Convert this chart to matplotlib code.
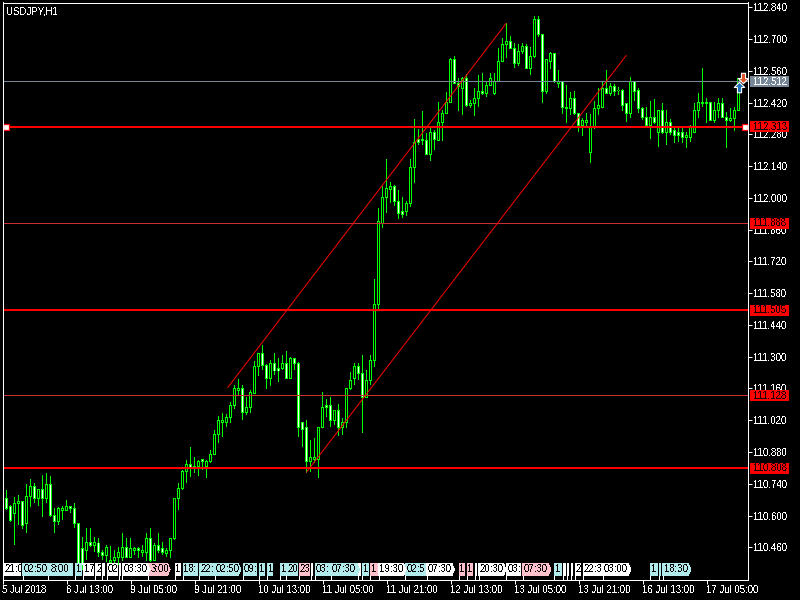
import matplotlib
matplotlib.use("Agg")
import matplotlib.pyplot as plt
from matplotlib.patches import Polygon, Rectangle
from matplotlib.transforms import blended_transform_factory
from matplotlib.path import Path
import numpy as np

plt.rcParams['font.family'] = ['Liberation Sans', 'DejaVu Sans']
plt.rcParams['text.antialiased'] = False

highs = [
110.673,110.713,110.647,110.682,110.690,110.660,110.739,110.761,110.743,110.713,
110.779,110.787,110.774,110.633,110.638,110.642,110.668,110.642,110.655,110.563,
110.505,110.545,110.545,110.505,110.501,110.448,110.470,110.466,110.448,110.461,
110.523,110.501,110.501,110.461,110.461,110.470,110.523,110.545,110.479,110.523,
110.483,110.457,110.501,110.677,110.743,110.801,110.845,110.902,110.858,110.845,
110.845,110.845,110.889,110.977,111.039,111.052,111.047,111.100,111.175,111.202,
111.175,111.122,111.153,111.281,111.316,111.352,111.268,111.285,111.316,111.294,
111.307,111.325,111.299,111.294,111.277,111.012,111.021,110.933,110.942,110.990,
111.144,111.114,111.122,111.065,111.092,111.030,111.162,111.233,111.272,111.272,
111.307,111.241,111.307,111.643,111.955,112.052,112.171,112.070,112.057,112.035,
112.004,111.986,112.171,112.348,112.303,112.383,112.286,112.308,112.299,112.422,
112.387,112.467,112.616,112.625,112.528,112.533,112.546,112.431,112.484,112.541,
112.550,112.511,112.550,112.550,112.660,112.705,112.771,112.713,112.682,112.678,
112.682,112.678,112.665,112.801,112.801,112.722,112.608,112.643,112.638,112.564,
112.515,112.497,112.467,112.471,112.370,112.352,112.374,112.370,112.427,112.484,
112.515,112.564,112.506,112.502,112.489,112.480,112.414,112.533,112.511,112.484,
112.400,112.400,112.427,112.436,112.387,112.418,112.387,112.348,112.308,112.312,
112.312,112.290,112.321,112.418,112.462,112.572,112.440,112.422,112.422,112.440,
112.440,112.378,112.396,112.400,112.524]
lows = [
110.655,110.624,110.572,110.470,110.558,110.541,110.523,110.638,110.655,110.642,
110.594,110.655,110.594,110.523,110.558,110.580,110.620,110.611,110.545,110.369,
110.360,110.404,110.461,110.439,110.417,110.404,110.395,110.382,110.386,110.382,
110.400,110.417,110.413,110.426,110.413,110.417,110.400,110.395,110.400,110.435,
110.426,110.417,110.413,110.492,110.624,110.713,110.743,110.770,110.787,110.774,
110.801,110.765,110.832,110.867,110.920,110.946,110.990,111.008,111.070,111.131,
111.021,111.043,111.052,111.140,111.215,111.241,111.158,111.171,111.219,111.189,
111.241,111.202,111.202,111.241,110.946,110.902,110.787,110.792,110.832,110.765,
110.986,111.034,110.990,110.999,110.951,110.955,110.986,111.153,111.175,111.197,
110.964,111.118,111.175,111.255,111.510,111.867,111.933,111.977,111.964,111.907,
111.911,111.920,111.960,112.065,112.233,112.233,112.189,112.162,112.211,112.251,
112.251,112.370,112.422,112.506,112.383,112.365,112.400,112.396,112.361,112.400,
112.453,112.444,112.493,112.453,112.511,112.599,112.616,112.660,112.572,112.581,
112.634,112.568,112.541,112.616,112.709,112.418,112.458,112.568,112.506,112.484,
112.370,112.330,112.365,112.365,112.290,112.273,112.312,112.154,112.303,112.365,
112.400,112.462,112.449,112.449,112.453,112.383,112.334,112.352,112.427,112.374,
112.343,112.317,112.259,112.326,112.224,112.281,112.233,112.277,112.242,112.246,
112.242,112.220,112.246,112.290,112.352,112.400,112.330,112.339,112.330,112.352,
112.352,112.220,112.334,112.295,112.383]
opens = [
110.655,110.673,110.638,110.607,110.655,110.660,110.563,110.682,110.726,110.677,
110.713,110.673,110.739,110.602,110.572,110.624,110.624,110.638,110.629,110.563,
110.453,110.448,110.483,110.466,110.479,110.439,110.422,110.395,110.404,110.413,
110.413,110.461,110.417,110.448,110.453,110.439,110.439,110.497,110.400,110.470,
110.453,110.431,110.448,110.497,110.673,110.717,110.792,110.823,110.810,110.814,
110.845,110.814,110.836,110.871,110.955,111.012,111.012,111.030,111.083,111.153,
111.158,111.052,111.074,111.140,111.255,111.316,111.263,111.206,111.272,111.246,
111.246,111.272,111.206,111.294,111.272,111.008,110.986,110.836,110.845,110.845,
110.990,111.087,111.087,111.017,111.065,110.986,111.008,111.158,111.202,111.255,
111.224,111.122,111.197,111.285,111.528,111.889,112.000,112.039,112.052,111.986,
111.942,111.942,111.977,112.132,112.259,112.251,112.251,112.193,112.290,112.251,
112.334,112.374,112.422,112.608,112.502,112.484,112.524,112.405,112.414,112.440,
112.467,112.462,112.497,112.458,112.515,112.603,112.678,112.687,112.660,112.594,
112.647,112.669,112.572,112.621,112.788,112.722,112.467,112.603,112.638,112.506,
112.511,112.392,112.392,112.440,112.370,112.321,112.334,112.202,112.308,112.396,
112.400,112.480,112.458,112.489,112.471,112.475,112.414,112.370,112.511,112.471,
112.396,112.356,112.321,112.352,112.286,112.383,112.286,112.334,112.295,112.286,
112.286,112.264,112.264,112.290,112.383,112.418,112.418,112.422,112.339,112.383,
112.414,112.356,112.339,112.348,112.383]
closes = [
110.673,110.633,110.580,110.655,110.660,110.558,110.686,110.726,110.677,110.713,
110.673,110.739,110.598,110.572,110.633,110.633,110.638,110.629,110.563,110.382,
110.382,110.483,110.466,110.483,110.439,110.422,110.461,110.404,110.413,110.439,
110.457,110.417,110.453,110.453,110.444,110.448,110.497,110.400,110.470,110.448,
110.435,110.448,110.497,110.677,110.717,110.796,110.823,110.810,110.814,110.836,
110.836,110.836,110.871,110.955,111.017,111.017,111.030,111.087,111.162,111.162,
111.052,111.078,111.144,111.255,111.316,111.263,111.206,111.272,111.237,111.237,
111.272,111.206,111.294,111.272,110.990,110.981,110.836,110.854,110.854,110.990,
111.078,111.078,111.017,111.065,110.986,111.008,111.162,111.197,111.255,111.224,
111.122,111.193,111.285,111.528,111.894,112.000,112.043,112.052,111.986,111.929,
111.925,111.977,112.136,112.246,112.242,112.259,112.193,112.290,112.259,112.334,
112.374,112.422,112.608,112.506,112.489,112.524,112.405,112.418,112.440,112.467,
112.462,112.497,112.528,112.515,112.603,112.678,112.687,112.660,112.594,112.647,
112.669,112.572,112.621,112.788,112.722,112.467,112.608,112.638,112.511,112.511,
112.400,112.400,112.440,112.370,112.321,112.339,112.339,112.308,112.396,112.405,
112.484,112.462,112.489,112.467,112.475,112.405,112.370,112.511,112.467,112.392,
112.352,112.321,112.352,112.334,112.383,112.286,112.334,112.290,112.273,112.273,
112.268,112.273,112.312,112.383,112.422,112.422,112.422,112.339,112.387,112.414,
112.352,112.339,112.348,112.383,112.524]

price_ticks = [112.840,112.700,112.560,112.420,112.280,112.140,112.000,111.860,111.720,
               111.580,111.440,111.300,111.160,111.020,110.880,110.740,110.600,110.460]
date_ticks = list(range(0, 177, 16))
date_labels = ['5 Jul 2018','6 Jul 13:00','9 Jul 05:00','9 Jul 21:00','10 Jul 13:00','11 Jul 05:00',
               '11 Jul 21:00','12 Jul 13:00','13 Jul 05:00','13 Jul 21:00','16 Jul 13:00','17 Jul 05:00']

level_bright = [112.313, 111.505, 110.808]
level_dim = [111.888, 111.128]
level_current = 112.512

channel_upper_bars = [56.35, 125.9]
channel_upper_prices = [111.165, 112.769]
channel_lower_bars = [76.0, 155.9]
channel_lower_prices = [110.791, 112.627]

handle_bars = [0.75, 185.5]
handle_price = 112.313
signal_up = (184, 112.489)
signal_down = (185, 112.530)

flag_text = ['21:0','02:50','8:00','1','17','2','','02','','03:30','3:00','1','18:','22:','02:50',
             '09:','1','1','1','20','23','','03:','07:30','','1','1','19:30','02:5','07:30','1','1','',
             '20:30','03:','07:30','1','','','','2','22:3','03:00','1','','18:30']
flag_start = [0.2,5.0,11.35,18.1,20.1,23.1,24.9,26.1,29.1,29.9,36.35,43,45,49.1,53,
              60,64,66.1,69.4,70.9,74,77,78,82,88.9,89.9,91.9,94,100.7,106,114,116,118,
              119,125.9,130,137.9,140.1,141,142,143,145,150,161.9,164.1,165.1]
flag_end = [4.7,11.9,17.7,19.75,22.75,24.7,25.7,28.75,29.7,36.9,41.9,44.7,48.75,52.75,59.6,
            63.6,65.7,67.6,70.75,73.75,76.75,77.7,81.75,89.25,89.7,91.7,93.75,100.9,105.75,113,115.7,117.7,118.7,
            125.9,129.7,137.1,139.75,140.75,141.7,142.7,144.7,149.85,157.1,163.75,164.7,172.1]
flag_kind = ['w','b','b','b','w','w','w','w','w','w','p','w','b','b','b',
             'b','b','b','b','b','p','w','b','b','w','b','p','w','b','w','p','p','w',
             'w','w','p','b','w','w','w','w','w','w','b','b','b']
flag_point = [0,1,0,0,0,0,0,0,0,1,1,0,0,0,1,
              0,0,0,0,0,0,0,0,1,0,0,0,1,0,1,0,0,0,
              1,0,1,0,0,0,0,0,0,1,0,0,1]

W, H = 800, 600
fig = plt.figure(figsize=(W/100, H/100), dpi=100, facecolor='black')
ax = fig.add_axes([2.5/W, (H-579.5)/H, 745/W, 577/H], facecolor='black')
PT = 0.72
FS = 6.9
GREEN = '#00ff00'
TICK = 0.0022   # half a price step of the screen grid
ax.set_xlim(0, 186.25)
ax.set_ylim(112.872-0.004407*579.5, 112.872-0.004407*2.5)

x = np.arange(len(closes))
o = np.array(opens); c = np.array(closes)
hi = np.array(highs); lo = np.array(lows)
top = np.maximum(o, c); bot = np.minimum(o, c)
AA = dict(antialiased=False, linewidth=0)
ax.bar(x, hi-lo, bottom=lo, width=0.25, color=GREEN, zorder=2, **AA)
ax.bar(x, top-bot+2*TICK, bottom=bot-TICK, width=0.75, color=GREEN, zorder=3, **AA)
bull = c >= o
ax.bar(x[bull], (top-bot)[bull]-2*TICK, bottom=bot[bull]+TICK, width=0.25, color='black', zorder=4, **AA)
bear = ~bull & ((top-bot) > 2*TICK)
ax.bar(x[bear], (top-bot)[bear]-2*TICK, bottom=bot[bear]+TICK, width=0.25, color='white', zorder=4, **AA)

for p in level_bright:
    ax.axhspan(p-2*TICK, p+2*TICK, facecolor='#ff0000', zorder=5, **AA)
for p in level_dim:
    ax.axhspan(p-TICK, p+TICK, facecolor='#c83030', zorder=5, **AA)
ax.axhspan(level_current-TICK, level_current+TICK, facecolor='#778899', zorder=5, **AA)

ax.plot(channel_upper_bars, channel_upper_prices, color='#ff0000', lw=0.7, zorder=6)
ax.plot(channel_lower_bars, channel_lower_prices, color='#ff0000', lw=0.7, zorder=6)

ax.plot(handle_bars, [handle_price]*2, ls='none', marker='s', ms=3.8, mfc='white', mec='#ff0000',
        mew=0.9, zorder=7, clip_on=False)

up = Path([(0,1),(1,0),(0.4,0),(0.4,-1),(-0.4,-1),(-0.4,0),(-1,0),(0,1)], closed=True)
down = Path([(0,-1),(1,0),(0.4,0),(0.4,1),(-0.4,1),(-0.4,0),(-1,0),(0,-1)], closed=True)
ax.plot(*signal_up, marker=up, ms=7.5, mfc='#1f6fb5', mec='white', mew=0.8, zorder=8, clip_on=False)
ax.plot(*signal_down, marker=down, ms=7.5, mfc='#e2572b', mec='white', mew=0.8, zorder=8, clip_on=False)

# time flags along the bottom
trans = blended_transform_factory(ax.transData, ax.transAxes)
kinds = {'w': '#ffffff', 'b': '#b0eaea', 'p': '#ffc0cb'}
Y0, Y1 = 3.5/577, 16.5/577
prev_end = -1
for i, (t, a, b, k, pt) in enumerate(zip(flag_text, flag_start, flag_end, flag_kind, flag_point)):
    z = 20 - i*0.01
    ym = (Y0+Y1)/2
    if pt:
        verts = [(a,Y0),(b-0.7,Y0),(b,ym),(b-0.7,Y1),(a,Y1)]
    else:
        verts = [(a,Y0),(b,Y0),(b,Y1),(a,Y1)]
    poly = Polygon(verts, closed=True, transform=trans, facecolor=kinds[k], edgecolor='none',
                   zorder=z, antialiased=False)
    ax.add_patch(poly)
    ax.plot([a, a], [0, Y0], transform=trans, color='white', lw=PT, antialiased=False, zorder=z)
    if t:
        start = max(a+0.3, prev_end+0.1)
        tx = ax.text(start, ym, t, transform=trans, color='black', fontsize=FS, ha='left', va='center',
                     zorder=z+0.001)
        tx.set_clip_path(poly)
    prev_end = b

# axes dressing
for s in ax.spines.values():
    s.set_color('white'); s.set_linewidth(PT); s.set_zorder(30)
ax.yaxis.tick_right()
ax.set_yticks(price_ticks)
ax.set_yticklabels([f'{p:.3f}' for p in price_ticks])
ax.set_xticks(date_ticks)
ax.set_xticklabels(date_labels, ha='left')
ax.tick_params(axis='y', colors='white', length=2.9, width=PT, pad=1.0, labelsize=FS)
ax.tick_params(axis='x', colors='white', length=2.9, width=PT, pad=1.2, labelsize=FS)

ax.text(0.0055, 0.9927, 'USDJPY,H1', transform=ax.transAxes, color='white', fontsize=FS, ha='left', va='top')

# price flags at the right edge
ytrans = ax.get_yaxis_transform()
def price_flag(p, bg, fg):
    ax.add_patch(Rectangle((1.0034, p-0.0242), 0.0523, 0.0484, transform=ytrans, facecolor=bg,
                           edgecolor='none', clip_on=False, zorder=40, antialiased=False))
    ax.text(1.0074, p, f'{p:.3f}', transform=ytrans, color=fg, fontsize=FS, va='center', ha='left',
            clip_on=False, zorder=41)
for p in level_bright + level_dim:
    price_flag(p, '#ff0000', '#200000')
price_flag(level_current, '#778899', 'white')

for lab in ax.get_yticklabels():
    lab.set_zorder(35)

fig.savefig('out.png', dpi=100, facecolor='black')
